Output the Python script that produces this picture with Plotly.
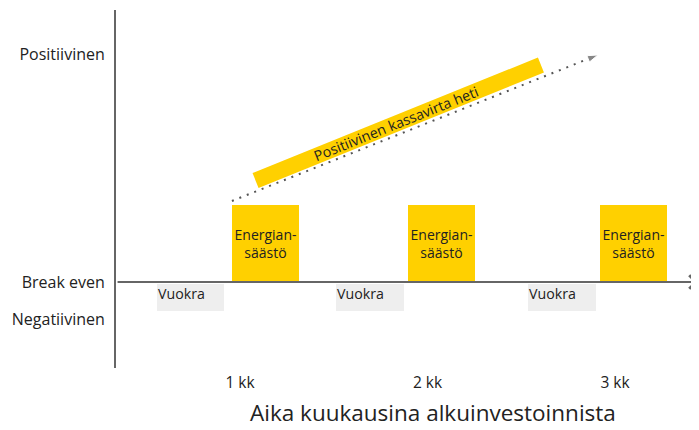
import plotly.graph_objects as go

# x in months, y in "cash flow" units (break even = 0)
tick_months = [1, 2, 3]
tick_labels = ["1 kk", "2 kk", "3 kk"]

y_levels = [2.95, 0, -0.48]
y_labels = ["Positiivinen", "Break even", "Negatiivinen"]

saving_x = [1.136, 2.075, 3.099]
saving_val = [1.0, 1.0, 1.0]
saving_label = "Energian-<br>säästö"

rent_x = [0.737, 1.692, 2.716]
rent_val = [-0.35, -0.35, -0.35]
rent_label = "Vuokra"

trend_x = [0.957, 2.909]
trend_y = [1.052, 2.948]
trend_label = "Positiivinen kassavirta heti"

FONT = "Open Sans"
YELLOW = "#FFD000"
GREY = "#666666"
TXT = "#222222"

fig = go.Figure()

# rent boxes just below break even
fig.add_trace(go.Bar(
    x=rent_x, y=rent_val, base=-0.03, width=0.36,
    marker=dict(color="#EEEEEE", line=dict(width=0)),
    hoverinfo="skip", showlegend=False
))

# energy saving bars
fig.add_trace(go.Bar(
    x=saving_x, y=saving_val, width=0.357,
    marker=dict(color=YELLOW, line=dict(width=0)),
    text=[saving_label] * 3, textposition="inside", insidetextanchor="middle",
    constraintext="none", textangle=0,
    textfont=dict(family=FONT, size=14, color=TXT),
    hoverinfo="skip", showlegend=False
))

# yellow banner drawn as a thick line parallel to the trend
banner_x = [1.083, 2.605]
banner_y = [1.318, 2.818]
fig.add_trace(go.Scatter(
    x=banner_x, y=banner_y, mode="lines",
    line=dict(color=YELLOW, width=16),
    hoverinfo="skip", showlegend=False
))

# dotted trend arrow
fig.add_trace(go.Scatter(
    x=trend_x, y=trend_y, mode="lines+markers",
    line=dict(color="#555555", width=2, dash="2px,6px"),
    marker=dict(symbol="arrow", size=[0, 11], angleref="previous", color="#555555"),
    hoverinfo="skip", showlegend=False
))

annotations = []
for x in rent_x:
    annotations.append(dict(
        x=x - 0.18, y=-0.15, xref="x", yref="y", text=rent_label,
        showarrow=False, xanchor="left", yanchor="middle", xshift=-1,
        font=dict(family=FONT, size=14.2, color=TXT)
    ))

# banner text
annotations.append(dict(
    x=1.832, y=2.06, xref="x", yref="y", text=trend_label, textangle=-22,
    showarrow=False, font=dict(family=FONT, size=14.3, color=TXT)
))

# break-even axis with arrow head
annotations.append(dict(
    x=3.443, y=0, ax=0.339, ay=0, xref="x", yref="y", axref="x", ayref="y",
    text="", showarrow=True, arrowhead=4, arrowsize=1.3, arrowwidth=2,
    arrowcolor=GREY, standoff=0, startstandoff=0
))

# x axis title
annotations.append(dict(
    x=0.544, y=-0.123, xref="paper", yref="paper",
    text="Aika kuukausina alkuinvestoinnista", showarrow=False,
    xanchor="center", yanchor="middle",
    font=dict(family=FONT, size=22.5, color=TXT)
))

# page body has an 8px margin, so the figure is 8px smaller and shifted
fig.update_layout(
    width=691, height=422, autosize=False,
    margin=dict(l=108, r=0, t=2, b=62),
    paper_bgcolor="white", plot_bgcolor="white",
    barmode="overlay", bargap=0,
    annotations=annotations,
    font=dict(family=FONT, color=TXT),
    xaxis=dict(
        range=[0.3387, 3.448], tickvals=tick_months, ticktext=tick_labels,
        showgrid=False, zeroline=False, showline=False, ticks="",
        ticklabelstandoff=3, tickfont=dict(family=FONT, size=15.5, color=TXT),
        fixedrange=True
    ),
    yaxis=dict(
        range=[-1.117, 3.532], tickvals=y_levels, ticktext=y_labels,
        showgrid=False, zeroline=False, showline=True, linecolor=GREY, linewidth=2,
        ticks="", ticklabelstandoff=6, tickfont=dict(family=FONT, size=16, color=TXT),
        fixedrange=True
    ),
)

fig.write_html("out.html")
